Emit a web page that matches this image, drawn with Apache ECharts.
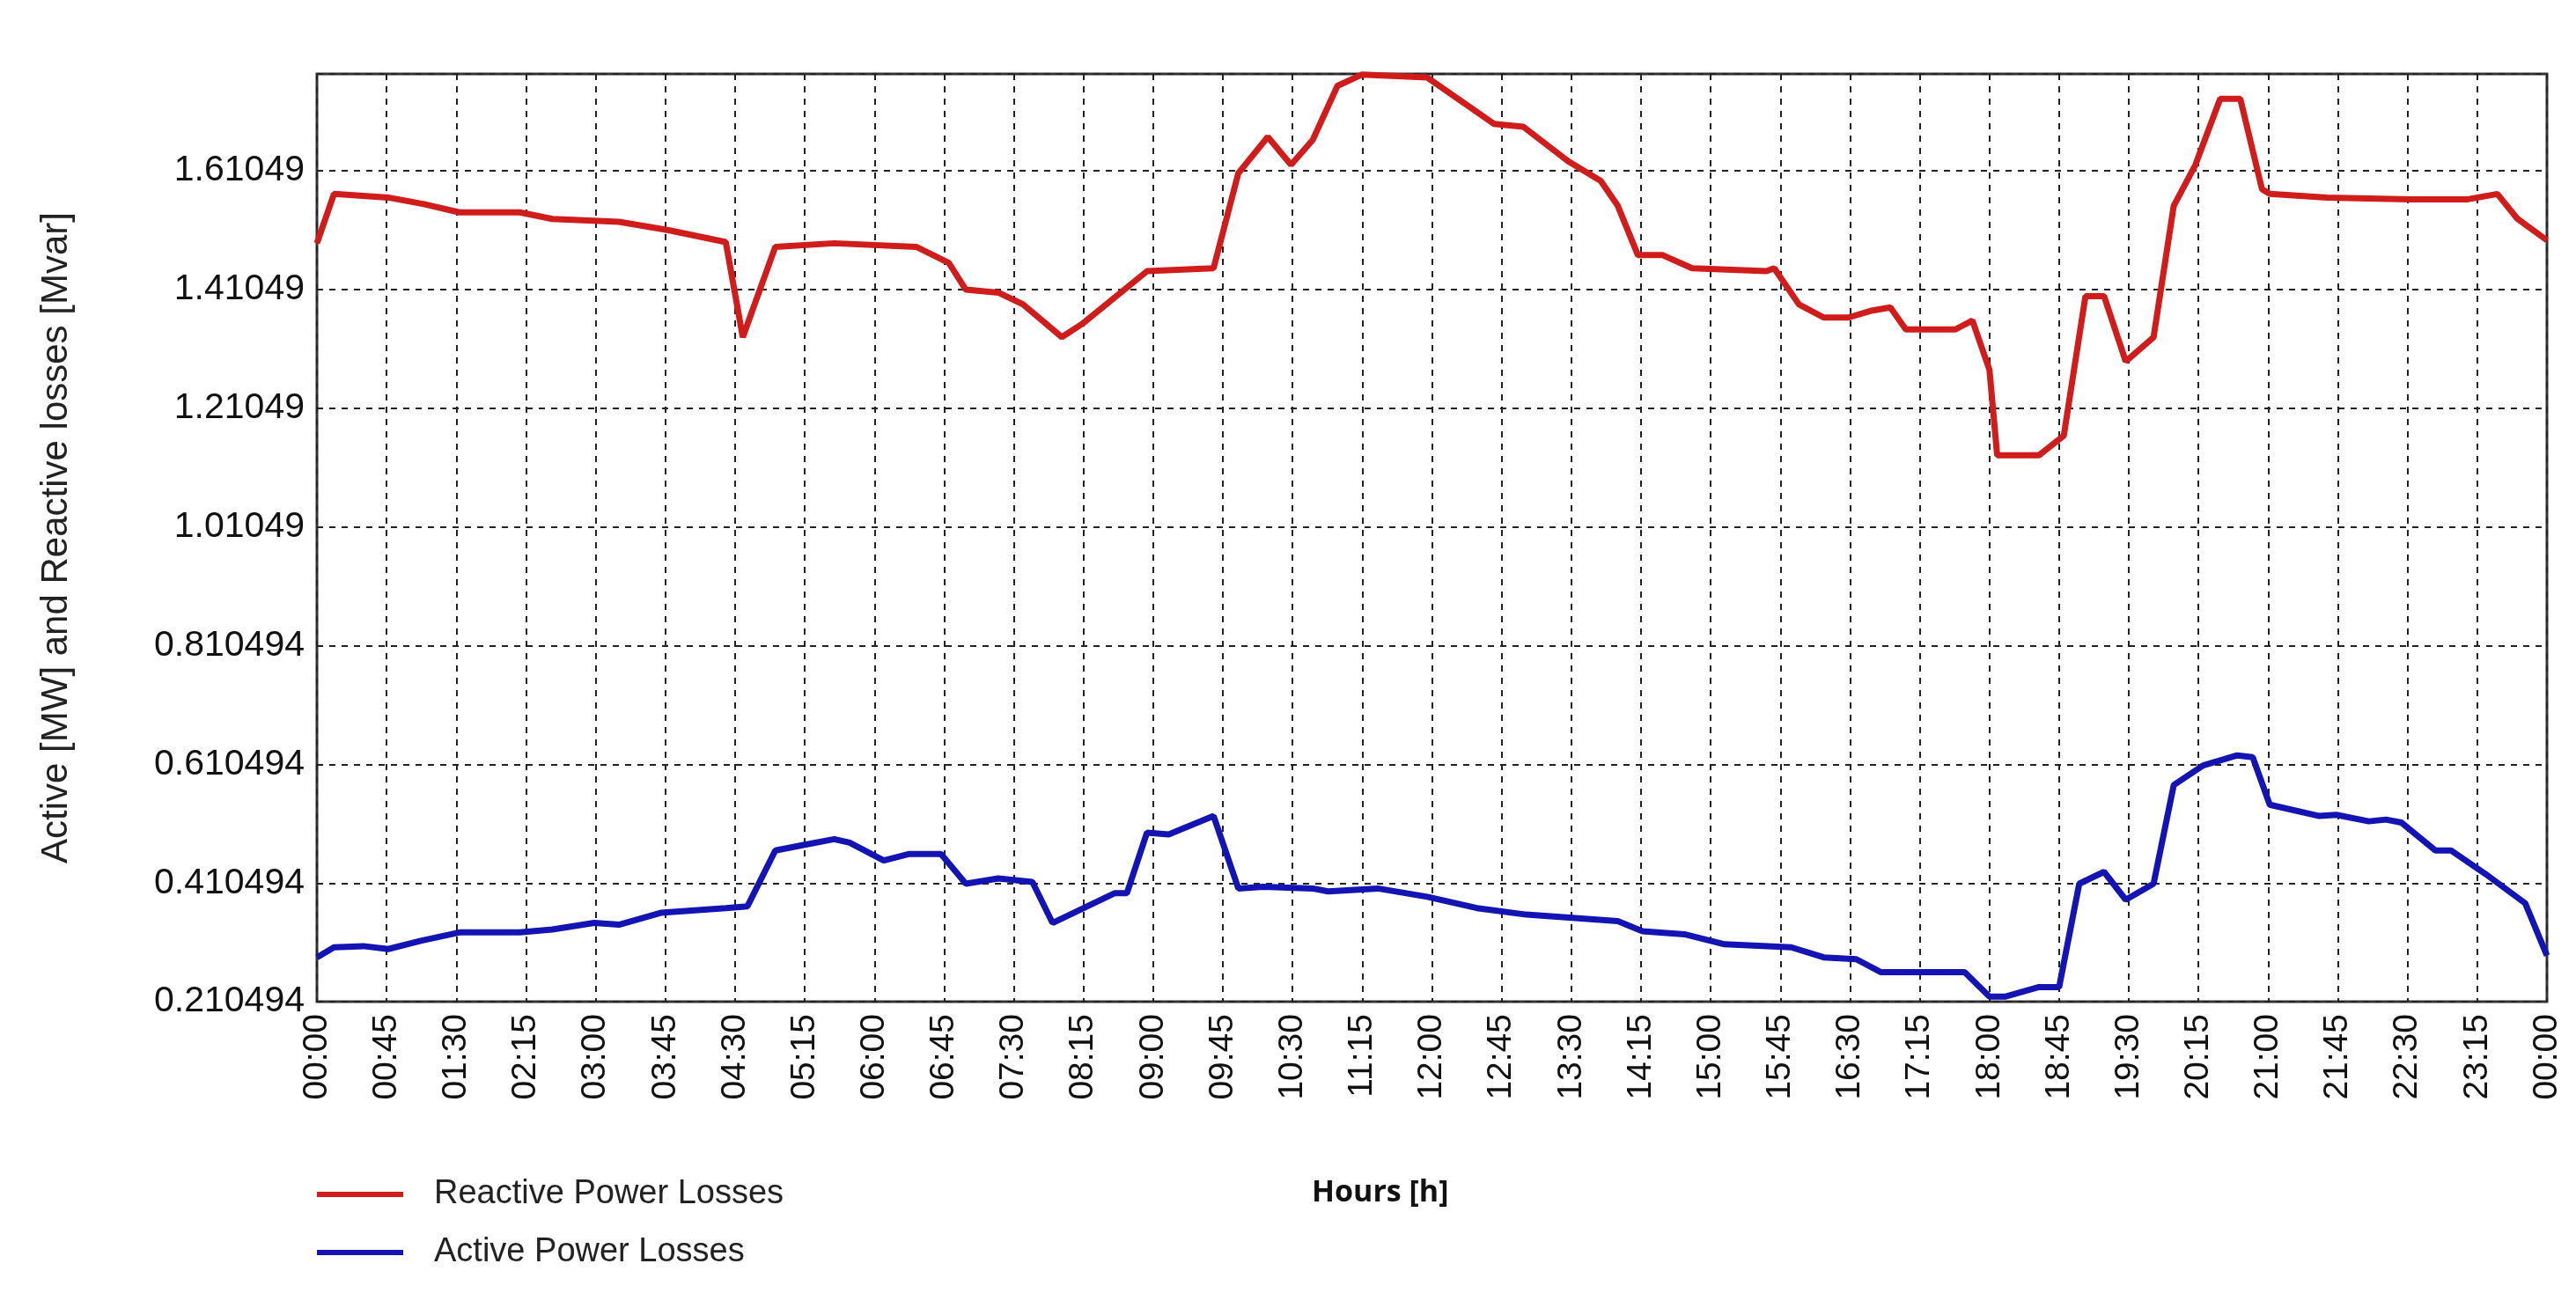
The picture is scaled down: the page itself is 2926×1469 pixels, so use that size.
<!DOCTYPE html>
<html><head><meta charset="utf-8">
<script src="https://cdn.jsdelivr.net/npm/echarts@6/dist/echarts.min.js"></script>
<style>html,body{margin:0;padding:0;background:#fff}#c{width:2926px;height:1469px}</style>
</head><body><div id="c"></div>
<script>
const reactiveTimes = [0,11,46,69,92,131,152,195,227,264,275,296,334,387,408,419,440,456,481,494,536,579,595,614,629,643,659,675,717,760,779,808,829,840,853,869,888,936,941,957,973,989,1003,1016,1026,1058,1069,1080,1085,1112,1128,1142,1154,1168,1186,1199,1213,1229,1242,1256,1261,1298,1352,1389,1408,1421,1440];
const reactiveValues = [1.487,1.570,1.564,1.553,1.539,1.539,1.528,1.523,1.509,1.489,1.329,1.481,1.487,1.481,1.454,1.409,1.404,1.384,1.329,1.351,1.440,1.445,1.605,1.666,1.619,1.661,1.752,1.771,1.766,1.688,1.683,1.625,1.592,1.550,1.467,1.467,1.445,1.440,1.445,1.384,1.362,1.362,1.373,1.379,1.342,1.342,1.357,1.274,1.130,1.130,1.163,1.398,1.398,1.288,1.329,1.550,1.619,1.730,1.730,1.578,1.570,1.564,1.561,1.561,1.570,1.528,1.492];
const activeTimes = [0,11,30,46,67,92,131,152,179,195,222,264,278,296,312,334,344,366,382,403,419,440,462,475,515,523,536,550,579,595,611,643,653,685,717,749,781,840,856,883,909,952,973,994,1010,1064,1080,1090,1112,1125,1138,1154,1168,1186,1199,1218,1240,1250,1261,1293,1304,1325,1336,1346,1368,1378,1400,1426,1440];
const activeValues = [0.285,0.302,0.304,0.299,0.313,0.327,0.327,0.332,0.343,0.340,0.360,0.368,0.371,0.465,0.473,0.484,0.478,0.448,0.459,0.459,0.409,0.418,0.412,0.343,0.393,0.393,0.495,0.492,0.523,0.401,0.404,0.401,0.396,0.401,0.387,0.368,0.357,0.346,0.329,0.324,0.307,0.302,0.285,0.282,0.260,0.260,0.219,0.219,0.235,0.235,0.409,0.429,0.382,0.409,0.575,0.608,0.625,0.622,0.542,0.523,0.525,0.514,0.517,0.512,0.465,0.465,0.426,0.376,0.288];
const yMin = 0.210494, yStep = 0.2, yMax = 1.772;
const seriesNames = ['Reactive Power Losses','Active Power Losses'];

const zip = (t,v) => t.map((x,i)=>[x,v[i]]);
const fmtTime = m => { const h = Math.floor(m/60)%24, mm = m%60; return String(h).padStart(2,'0')+':'+String(mm).padStart(2,'0'); };
const fmtY = v => (yMin + Math.round((v - yMin)/yStep)*yStep).toPrecision(6);
const font = '"Liberation Sans", Arial, sans-serif';
const dash = {color:'#222', type:[7,7], width:2};
const chart = echarts.init(document.getElementById('c'));
chart.setOption({
  animation:false,
  textStyle:{fontFamily:font},
  grid:{left:360,right:33,top:84,bottom:331,show:true,borderColor:'#333',borderWidth:3,backgroundColor:'transparent'},
  xAxis:{type:'value',min:0,max:1440,interval:45,
    axisLine:{show:false},axisTick:{show:false},
    axisLabel:{formatter:fmtTime,rotate:90,fontSize:39,color:'#111',margin:14,fontFamily:font},
    splitLine:{show:true,lineStyle:dash}},
  yAxis:{type:'value',min:yMin,max:yMax,interval:yStep,
    axisLine:{show:false},axisTick:{show:false},
    axisLabel:{formatter:fmtY,fontSize:41,color:'#111',margin:14,showMaxLabel:false,fontFamily:font},
    splitLine:{show:true,lineStyle:dash},
    name:'Active [MW] and Reactive losses [Mvar]',nameLocation:'middle',nameGap:275,
    nameTextStyle:{fontSize:42,color:'#222',fontFamily:font}},
  legend:{orient:'vertical',left:355,top:1333,itemWidth:98,itemHeight:6,itemGap:28,icon:'rect',
    textStyle:{fontSize:38,color:'#222',padding:[0,0,0,30],fontFamily:font},
    data:seriesNames},
  graphic:[{type:'text',left:1490,top:1338,style:{text:'Hours [h]',font:'bold 34px "Open Sans", sans-serif',fill:'#111'}}],
  series:[
    {name:seriesNames[0],type:'line',data:zip(reactiveTimes,reactiveValues),showSymbol:false,
     lineStyle:{color:'#d11c1c',width:7},itemStyle:{color:'#d11c1c'}},
    {name:seriesNames[1],type:'line',data:zip(activeTimes,activeValues),showSymbol:false,
     lineStyle:{color:'#1414b4',width:7},itemStyle:{color:'#1414b4'}}
  ]
});
</script></body></html>
